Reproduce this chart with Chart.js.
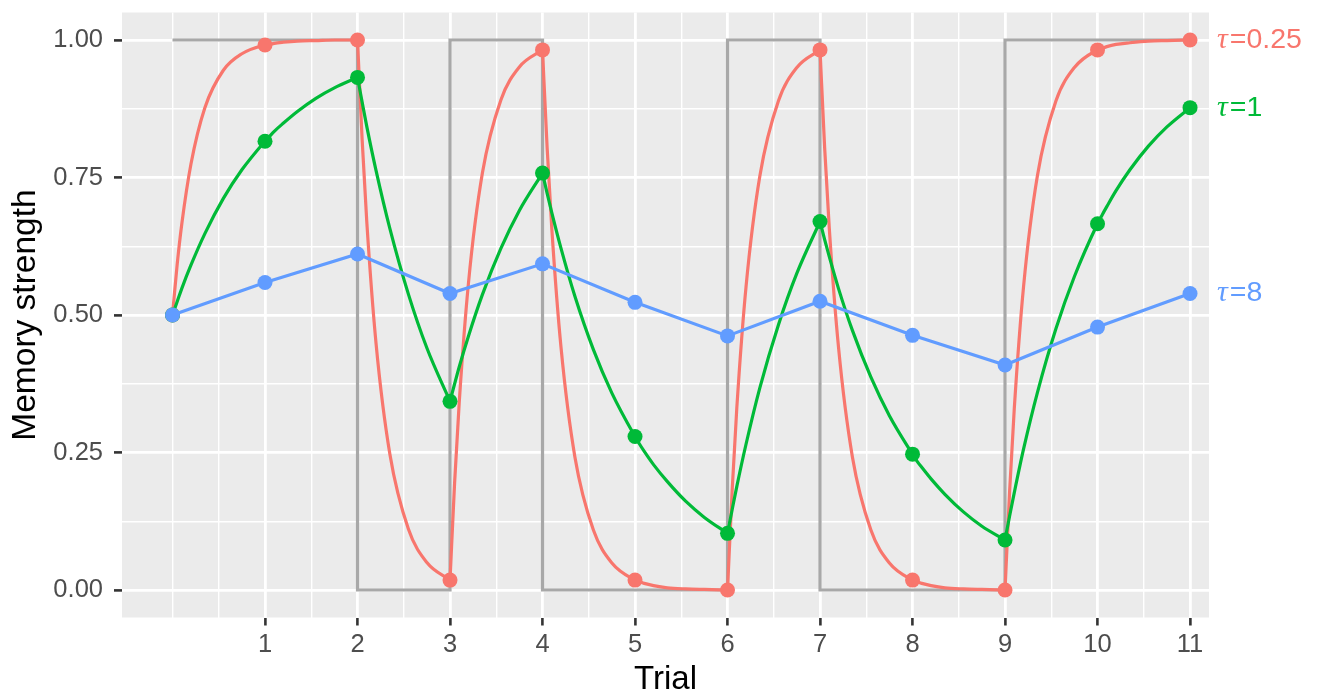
<!DOCTYPE html>
<html>
<head>
<meta charset="utf-8">
<title>Memory strength</title>
<script src="https://cdn.jsdelivr.net/npm/chart.js@4"></script>
<style>
  html, body { margin: 0; padding: 0; background: #ffffff; }
  #wrap { width: 1325px; height: 695px; }
</style>
</head>
<body>
<div id="wrap"><canvas id="memoryChart" width="1325" height="695"></canvas></div>
<script>
// memory strength at each trial
const trials = [0, 1, 2, 3, 4, 5, 6, 7, 8, 9, 10, 11];
const target = [1, 1, 0, 1, 0, 0, 1, 0, 0, 1, 1, 1];
const tau025 = [0.5, 0.991, 1.0, 0.018, 0.982, 0.018, 0.0, 0.982, 0.018, 0.0, 0.982, 1.0];
const tau1 = [0.5, 0.816, 0.932, 0.343, 0.758, 0.279, 0.103, 0.670, 0.247, 0.091, 0.666, 0.877];
const tau8 = [0.5, 0.559, 0.611, 0.539, 0.593, 0.523, 0.462, 0.525, 0.463, 0.409, 0.478, 0.539];

// curves between the trials, null = break where the target flips
const curveX = [
    0, 0.05, 0.1, 0.2, 0.35, 0.55, 0.75, 1, 1.05, 1.1, 1.2, 1.35, 1.55, 1.75, 2, 2,
    2, 2.05, 2.1, 2.2, 2.35, 2.55, 2.75, 3, 3,
    3, 3.05, 3.1, 3.2, 3.35, 3.55, 3.75, 4, 4,
    4, 4.05, 4.1, 4.2, 4.35, 4.55, 4.75, 5, 5.05, 5.1, 5.2, 5.35, 5.55, 5.75, 6, 6,
    6, 6.05, 6.1, 6.2, 6.35, 6.55, 6.75, 7, 7,
    7, 7.05, 7.1, 7.2, 7.35, 7.55, 7.75, 8, 8.05, 8.1, 8.2, 8.35, 8.55, 8.75, 9, 9,
    9, 9.05, 9.1, 9.2, 9.35, 9.55, 9.75, 10, 10.05, 10.1, 10.2, 10.35, 10.55, 10.75, 11
];
const curveTau025 = [
    0.5, 0.591, 0.665, 0.775, 0.877, 0.945, 0.975, 0.991, 0.992, 0.994, 0.996, 0.998, 0.999, 1.0, 1.0, null,
    1.0, 0.819, 0.670, 0.449, 0.247, 0.111, 0.050, 0.018, null,
    0.018, 0.196, 0.342, 0.559, 0.758, 0.891, 0.951, 0.982, null,
    0.982, 0.804, 0.658, 0.441, 0.242, 0.109, 0.049, 0.018, 0.015, 0.012, 0.008, 0.004, 0.002, 0.001, 0.0, null,
    0.0, 0.181, 0.330, 0.551, 0.753, 0.889, 0.950, 0.982, null,
    0.982, 0.804, 0.658, 0.441, 0.242, 0.109, 0.049, 0.018, 0.015, 0.012, 0.008, 0.004, 0.002, 0.001, 0.0, null,
    0.0, 0.181, 0.330, 0.551, 0.753, 0.889, 0.950, 0.982, 0.985, 0.988, 0.992, 0.995, 0.998, 0.999, 1.0
];
const curveTau1 = [
    0.5, 0.524, 0.548, 0.591, 0.648, 0.712, 0.764, 0.816, 0.825, 0.834, 0.849, 0.870, 0.894, 0.913, 0.932, null,
    0.932, 0.887, 0.843, 0.763, 0.657, 0.538, 0.440, 0.343, null,
    0.343, 0.375, 0.406, 0.462, 0.537, 0.621, 0.690, 0.758, null,
    0.758, 0.721, 0.686, 0.621, 0.534, 0.437, 0.358, 0.279, 0.265, 0.252, 0.228, 0.197, 0.161, 0.132, 0.103, null,
    0.103, 0.146, 0.188, 0.265, 0.368, 0.482, 0.576, 0.670, null,
    0.670, 0.637, 0.606, 0.548, 0.472, 0.387, 0.317, 0.247, 0.234, 0.223, 0.202, 0.174, 0.142, 0.116, 0.091, null,
    0.091, 0.135, 0.177, 0.256, 0.359, 0.475, 0.570, 0.666, 0.682, 0.697, 0.726, 0.764, 0.807, 0.842, 0.877
];

// grid lines / tick labels
const xTicks = [0, 0.5, 1, 1.5, 2, 2.5, 3, 3.5, 4, 4.5, 5, 5.5, 6, 6.5, 7, 7.5, 8, 8.5, 9, 9.5, 10, 10.5, 11];
const xLabels = [1, 2, 3, 4, 5, 6, 7, 8, 9, 10, 11];
const yTicks = [0, 0.125, 0.25, 0.375, 0.5, 0.625, 0.75, 0.875, 1];
const yLabels = [0, 0.25, 0.5, 0.75, 1];

const seriesNames = ["0.25", "1", "8"];
const seriesColors = ["#F8766D", "#00BA38", "#619CFF"];

const sansFont = "'Liberation Sans', Arial, sans-serif";

function toPoints(xs, ys) {
    return xs.map(function (x, i) {
        return { x: x, y: ys[i] };
    });
}

// grey panel behind the grid
const panelBackground = {
    id: "panelBackground",
    beforeDraw(chart) {
        const ctx = chart.ctx;
        const area = chart.chartArea;
        ctx.save();
        ctx.fillStyle = "#FFFFFF";
        ctx.fillRect(0, 0, chart.width, chart.height);
        ctx.fillStyle = "#EBEBEB";
        ctx.fillRect(area.left, area.top, area.right - area.left, area.bottom - area.top);
        ctx.restore();
    }
};

// tau labels to the right of the last points
const seriesLabels = {
    id: "seriesLabels",
    afterDatasetsDraw(chart) {
        const ctx = chart.ctx;
        const xScale = chart.scales.x;
        const yScale = chart.scales.y;
        const ends = [tau025, tau1, tau8];
        ctx.save();
        ctx.textBaseline = "middle";
        ctx.textAlign = "left";
        for (let i = 0; i < ends.length; i++) {
            let x = xScale.getPixelForValue(trials[trials.length - 1]) + 27;
            const y = yScale.getPixelForValue(ends[i][ends[i].length - 1]);
            ctx.fillStyle = seriesColors[i];
            ctx.font = "italic 30px 'Liberation Serif', serif";
            ctx.fillText("\u03C4", x, y);
            x += ctx.measureText("\u03C4").width + 2;
            ctx.font = "28.5px " + sansFont;
            ctx.fillText("=" + seriesNames[i], x, y);
        }
        ctx.restore();
    }
};

const ctx = document.getElementById("memoryChart").getContext("2d");

new Chart(ctx, {
    type: "line",
    data: {
        datasets: [
            {
                data: toPoints(trials, tau8),
                borderColor: seriesColors[2],
                backgroundColor: seriesColors[2],
                borderWidth: 3.2,
                pointRadius: 7.5,
                pointBorderWidth: 0,
                tension: 0,
                order: 1
            },
            {
                data: toPoints(trials, tau1),
                showLine: false,
                backgroundColor: seriesColors[1],
                borderColor: seriesColors[1],
                pointRadius: 7.5,
                pointBorderWidth: 0,
                order: 2
            },
            {
                data: toPoints(trials, tau025),
                showLine: false,
                backgroundColor: seriesColors[0],
                borderColor: seriesColors[0],
                pointRadius: 7.5,
                pointBorderWidth: 0,
                order: 3
            },
            {
                data: toPoints(curveX, curveTau1),
                borderColor: seriesColors[1],
                borderWidth: 3.2,
                pointRadius: 0,
                cubicInterpolationMode: "monotone",
                order: 5
            },
            {
                data: toPoints(curveX, curveTau025),
                borderColor: seriesColors[0],
                borderWidth: 3.2,
                pointRadius: 0,
                cubicInterpolationMode: "monotone",
                order: 6
            },
            {
                data: toPoints(trials, target),
                borderColor: "#A8A8A8",
                borderWidth: 3.2,
                pointRadius: 0,
                stepped: true,
                order: 7
            }
        ]
    },
    options: {
        responsive: false,
        animation: false,
        devicePixelRatio: 1,
        layout: {
            padding: { left: 0, top: 12.5, right: 116, bottom: 0 }
        },
        plugins: {
            legend: { display: false },
            tooltip: { enabled: false }
        },
        scales: {
            x: {
                type: "linear",
                min: -0.546,
                max: 11.205,
                border: { display: false },
                afterBuildTicks: function (scale) {
                    scale.ticks = xTicks.map(function (v) { return { value: v }; });
                },
                afterFit: function (scale) {
                    scale.height = 77.5;
                    scale.paddingLeft = 0;
                    scale.paddingRight = 0;
                },
                grid: {
                    color: "#FFFFFF",
                    lineWidth: function (c) {
                        return xLabels.includes(c.tick.value) ? 2.8 : 1.4;
                    },
                    tickColor: function (c) {
                        return xLabels.includes(c.tick.value) ? "#333333" : "rgba(0,0,0,0)";
                    },
                    tickWidth: 2.6,
                    tickLength: 8
                },
                ticks: {
                    autoSkip: false,
                    maxRotation: 0,
                    padding: 4,
                    color: "#4D4D4D",
                    font: { family: sansFont, size: 25.5 },
                    callback: function (value) {
                        return xLabels.includes(value) ? String(value) : "";
                    }
                },
                title: {
                    display: true,
                    text: "Trial",
                    color: "#000000",
                    font: { family: sansFont, size: 33, lineHeight: 0.9 },
                    padding: { top: 0, bottom: 0 }
                }
            },
            y: {
                type: "linear",
                min: -0.05,
                max: 1.05,
                border: { display: false },
                afterBuildTicks: function (scale) {
                    scale.ticks = yTicks.map(function (v) { return { value: v }; });
                },
                afterFit: function (scale) {
                    scale.width = 122;
                    scale.paddingTop = 0;
                    scale.paddingBottom = 0;
                },
                grid: {
                    color: "#FFFFFF",
                    lineWidth: function (c) {
                        return yLabels.includes(c.tick.value) ? 2.8 : 1.4;
                    },
                    tickColor: function (c) {
                        return yLabels.includes(c.tick.value) ? "#333333" : "rgba(0,0,0,0)";
                    },
                    tickWidth: 2.6,
                    tickLength: 8
                },
                ticks: {
                    autoSkip: false,
                    padding: 11,
                    color: "#4D4D4D",
                    font: { family: sansFont, size: 25.5 },
                    callback: function (value) {
                        return yLabels.includes(value) ? value.toFixed(2) : "";
                    }
                },
                title: {
                    display: true,
                    text: "Memory strength",
                    color: "#000000",
                    font: { family: sansFont, size: 33.5, lineHeight: 1.1 },
                    padding: { top: 7, bottom: 0 }
                }
            }
        }
    },
    plugins: [panelBackground, seriesLabels]
});
</script>
</body>
</html>
